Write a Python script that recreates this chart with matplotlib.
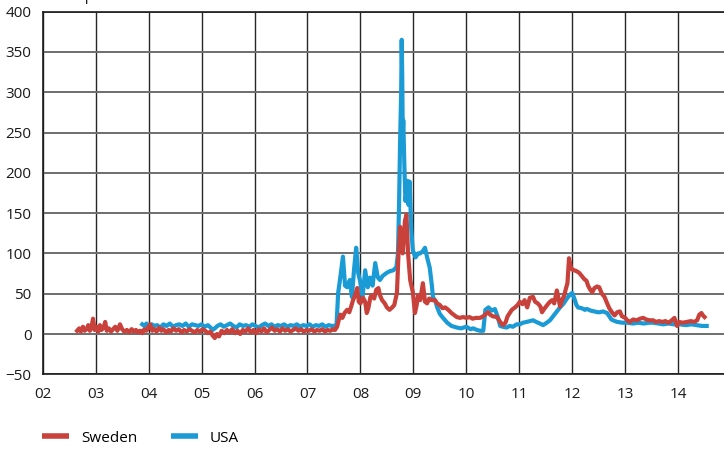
import matplotlib
matplotlib.use("Agg")
import matplotlib.pyplot as plt
from matplotlib.lines import Line2D

# Spread series, basis points, dates as decimal years
sweden_dates = [
    2002.65, 2002.69, 2002.72, 2002.76, 2002.79, 2002.83, 2002.86, 2002.89, 2002.92, 2002.95,
    2002.98, 2003.02, 2003.05, 2003.08, 2003.11, 2003.15, 2003.18, 2003.21, 2003.25, 2003.29,
    2003.33, 2003.37, 2003.41, 2003.46, 2003.50, 2003.54, 2003.59, 2003.63, 2003.68, 2003.72,
    2003.76, 2003.80, 2003.84, 2003.88, 2003.92, 2003.96, 2004.00, 2004.03, 2004.07, 2004.11,
    2004.15, 2004.20, 2004.24, 2004.28, 2004.33, 2004.38, 2004.42, 2004.47, 2004.52, 2004.57,
    2004.62, 2004.67, 2004.72, 2004.77, 2004.82, 2004.87, 2004.92, 2004.97, 2005.02, 2005.07,
    2005.12, 2005.17, 2005.21, 2005.25, 2005.29, 2005.33, 2005.38, 2005.43, 2005.48, 2005.53,
    2005.58, 2005.63, 2005.68, 2005.73, 2005.78, 2005.83, 2005.88, 2005.93, 2005.98, 2006.03,
    2006.08, 2006.13, 2006.18, 2006.23, 2006.28, 2006.33, 2006.38, 2006.43, 2006.48, 2006.53,
    2006.58, 2006.63, 2006.68, 2006.73, 2006.78, 2006.83, 2006.88, 2006.93, 2006.98, 2007.03,
    2007.08, 2007.13, 2007.18, 2007.23, 2007.28, 2007.33, 2007.38, 2007.43, 2007.48, 2007.52,
    2007.56, 2007.59, 2007.62, 2007.66, 2007.70, 2007.75, 2007.79, 2007.83, 2007.86, 2007.90,
    2007.94, 2007.97, 2008.00, 2008.05, 2008.09, 2008.12, 2008.15, 2008.19, 2008.22, 2008.26,
    2008.30, 2008.34, 2008.37, 2008.41, 2008.46, 2008.50, 2008.55, 2008.60, 2008.64, 2008.69,
    2008.72, 2008.75, 2008.78, 2008.80, 2008.82, 2008.84, 2008.87, 2008.90, 2008.92, 2008.94,
    2008.97, 2008.99, 2009.03, 2009.06, 2009.09, 2009.13, 2009.18, 2009.22, 2009.26, 2009.30,
    2009.35, 2009.41, 2009.45, 2009.50, 2009.55, 2009.60, 2009.66, 2009.72, 2009.78, 2009.82,
    2009.88, 2009.94, 2010.00, 2010.06, 2010.12, 2010.18, 2010.26, 2010.32, 2010.41, 2010.45,
    2010.50, 2010.58, 2010.64, 2010.69, 2010.74, 2010.78, 2010.83, 2010.86, 2010.92, 2010.97,
    2011.01, 2011.06, 2011.10, 2011.15, 2011.20, 2011.26, 2011.30, 2011.35, 2011.40, 2011.43,
    2011.47, 2011.54, 2011.58, 2011.62, 2011.66, 2011.71, 2011.74, 2011.77, 2011.81, 2011.85,
    2011.88, 2011.91, 2011.94, 2011.97, 2012.00, 2012.04, 2012.08, 2012.13, 2012.18, 2012.23,
    2012.27, 2012.30, 2012.34, 2012.38, 2012.42, 2012.47, 2012.51, 2012.56, 2012.61, 2012.66,
    2012.70, 2012.75, 2012.80, 2012.85, 2012.90, 2012.94, 2013.00, 2013.04, 2013.09, 2013.15,
    2013.22, 2013.28, 2013.34, 2013.40, 2013.46, 2013.53, 2013.58, 2013.64, 2013.70, 2013.76,
    2013.82, 2013.88, 2013.93, 2013.98, 2014.02, 2014.08, 2014.17, 2014.24, 2014.30, 2014.36,
    2014.40, 2014.44, 2014.47, 2014.50,
]
sweden_bp = [
    4, 7, 3, 9, 4, 6, 11, 4, 8, 19,
    5, 9, 3, 11, 5, 8, 15, 4, 7, 3,
    6, 9, 4, 12, 6, 3, 5, 2, 6, 3,
    5, 2, 4, 1, 6, 4, 9, 12, 4, 6,
    3, 8, 4, 6, 2, 5, 3, 7, 4, 6,
    2, 5, 3, 6, 4, 2, 5, 3, 6, 4,
    1, 3, -2, -5, 0, -3, 4, 1, 5, 2,
    6, 1, 4, 0, 5, 3, 7, 2, 5, 1,
    6, 3, 7, 2, 5, 8, 4, 6, 3, 7,
    4, 6, 3, 5, 7, 4, 6, 3, 5, 4,
    6, 3, 5, 4, 6, 3, 5, 4, 6, 5,
    9, 17, 24, 20, 26, 30, 27, 35, 42, 48,
    57, 40, 38, 45, 40, 26, 32, 46, 48, 44,
    55, 57, 48, 42, 38, 33, 30, 33, 36, 51,
    100, 133, 110, 100, 120, 140, 148, 100, 83, 67,
    58, 52, 26, 35, 48, 42, 63, 40, 38, 44,
    42, 42, 38, 36, 32, 33, 30, 26, 23, 21,
    20, 21, 20, 21, 19, 20, 20, 22, 27, 24,
    22, 21, 15, 11, 14, 22, 27, 30, 33, 36,
    40, 37, 42, 33, 45, 46, 40, 38, 34, 27,
    31, 37, 40, 42, 38, 54, 45, 34, 42, 48,
    56, 63, 94, 84, 80, 79, 78, 76, 72, 68,
    66, 60, 55, 52, 57, 59, 58, 50, 46, 38,
    32, 27, 23, 27, 28, 22, 20, 17, 15, 18,
    17, 19, 20, 18, 17, 17, 15, 16, 15, 16,
    14, 17, 20, 10, 15, 14, 15, 16, 15, 17,
    24, 26, 23, 21,
]

usa_dates = [
    2003.88, 2003.92, 2003.96, 2004.01, 2004.06, 2004.11, 2004.16, 2004.22, 2004.28, 2004.34,
    2004.40, 2004.46, 2004.52, 2004.58, 2004.64, 2004.70, 2004.76, 2004.82, 2004.88, 2004.94,
    2005.00, 2005.06, 2005.12, 2005.17, 2005.21, 2005.25, 2005.30, 2005.36, 2005.42, 2005.48,
    2005.54, 2005.60, 2005.66, 2005.72, 2005.78, 2005.84, 2005.90, 2005.96, 2006.02, 2006.08,
    2006.14, 2006.20, 2006.26, 2006.32, 2006.38, 2006.44, 2006.50, 2006.56, 2006.62, 2006.68,
    2006.74, 2006.80, 2006.86, 2006.92, 2006.98, 2007.04, 2007.10, 2007.16, 2007.22, 2007.28,
    2007.34, 2007.40, 2007.46, 2007.51, 2007.55, 2007.58, 2007.62, 2007.67, 2007.71, 2007.75,
    2007.80, 2007.84, 2007.88, 2007.92, 2007.96, 2007.99, 2008.04, 2008.09, 2008.14, 2008.18,
    2008.23, 2008.28, 2008.33, 2008.37, 2008.42, 2008.50, 2008.56, 2008.62, 2008.68, 2008.71,
    2008.73, 2008.75, 2008.77, 2008.78, 2008.79, 2008.80, 2008.81, 2008.83, 2008.85, 2008.87,
    2008.89, 2008.91, 2008.93, 2008.96, 2008.99, 2009.04, 2009.09, 2009.13, 2009.18, 2009.22,
    2009.26, 2009.31, 2009.35, 2009.37, 2009.42, 2009.45, 2009.50, 2009.56, 2009.64, 2009.72,
    2009.82, 2009.90, 2010.00, 2010.08, 2010.13, 2010.20, 2010.26, 2010.32, 2010.36, 2010.42,
    2010.48, 2010.54, 2010.60, 2010.64, 2010.69, 2010.76, 2010.82, 2010.88, 2010.95, 2011.01,
    2011.07, 2011.14, 2011.20, 2011.26, 2011.32, 2011.39, 2011.45, 2011.52, 2011.58, 2011.64,
    2011.70, 2011.77, 2011.84, 2011.90, 2011.96, 2012.00, 2012.04, 2012.08, 2012.11, 2012.18,
    2012.24, 2012.28, 2012.35, 2012.42, 2012.48, 2012.52, 2012.58, 2012.66, 2012.70, 2012.74,
    2012.77, 2012.85, 2012.95, 2013.04, 2013.15, 2013.25, 2013.35, 2013.45, 2013.53, 2013.62,
    2013.72, 2013.82, 2013.92, 2014.03, 2014.15, 2014.25, 2014.35, 2014.45, 2014.54,
]
usa_bp = [
    12, 10, 13, 9, 12, 10, 11, 8, 12, 10,
    13, 9, 11, 12, 10, 13, 9, 12, 11, 10,
    12, 9, 11, 8, 5, 7, 10, 12, 9, 11,
    13, 10, 8, 12, 10, 11, 9, 12, 10, 8,
    11, 13, 10, 12, 9, 11, 10, 12, 9, 11,
    10, 12, 9, 11, 10, 12, 9, 11, 10, 12,
    9, 11, 10, 10, 12, 51, 70, 96, 60, 58,
    67, 46, 80, 107, 75, 67, 46, 79, 58, 70,
    60, 88, 70, 67, 72, 76, 78, 79, 83, 100,
    160, 240, 300, 365, 320, 250, 265, 210, 165, 175,
    190, 160, 189, 130, 104, 95, 100, 100, 103, 107,
    95, 82, 60, 46, 40, 33, 25, 20, 14, 10,
    8, 7, 9, 6, 7, 5, 4, 4, 30, 33,
    29, 31, 20, 10, 9, 8, 10, 9, 12, 12,
    14, 15, 16, 17, 15, 13, 11, 14, 17, 22,
    27, 33, 38, 44, 49, 51, 44, 36, 33, 32,
    30, 31, 29, 28, 27, 27, 28, 26, 22, 18,
    17, 15, 14, 14, 13, 14, 13, 14, 14, 13,
    12, 13, 12, 12, 11, 12, 11, 10, 10,
]

year_ticks = list(range(2002, 2015))
year_labels = [f"{y % 100:02d}" for y in year_ticks]
value_ticks = list(range(-50, 401, 50))

red = "#c8413b"
blue = "#1b9bd6"

plt.rcParams["font.family"] = ["Open Sans", "DejaVu Sans"]

fig = plt.figure(figsize=(7.24, 4.51), dpi=100)
ax = fig.add_axes([42.7 / 724, (451 - 374.3) / 451, 1 - 42.7 / 724, (374.3 - 11.6) / 451])

ax.plot(usa_dates, usa_bp, color=blue, lw=3.0, solid_joinstyle="round", zorder=3)
ax.plot(sweden_dates, sweden_bp, color=red, lw=3.0, solid_joinstyle="round", zorder=4)

ax.set_xlim(2002, 2002 + (724 - 42.7) / 52.95)
ax.set_ylim(-50, 400)
ax.set_xticks(year_ticks)
ax.set_xticklabels(year_labels)
ax.set_yticks(value_ticks)

ax.tick_params(axis="both", length=0, labelsize=11, colors="#1a1a1a")
ax.tick_params(axis="x", pad=9)
ax.tick_params(axis="y", pad=8)

ax.grid(axis="y", color="#6e6e6e", lw=1.4, zorder=1)
ax.grid(axis="x", color="#262626", lw=1.0, zorder=1)
ax.set_axisbelow(True)

for side in ("left", "top", "bottom"):
    ax.spines[side].set_color("#1a1a1a")
    ax.spines[side].set_linewidth(1.2)
ax.spines["right"].set_visible(False)

# Unit caption above the plot area; its baseline sits on the top edge
fig.text(44 / 724, 1.0, "Basis points", fontsize=11, ha="left", va="baseline", color="#1a1a1a")

handles = [Line2D([], [], color=red, lw=4, solid_capstyle="butt"),
           Line2D([], [], color=blue, lw=4, solid_capstyle="butt")]
fig.legend(handles, ["Sweden", "USA"], loc="center left",
           bbox_to_anchor=(42 / 724, 1 - 438 / 451), ncol=2, frameon=False,
           fontsize=11, handlelength=1.75, handletextpad=0.8, columnspacing=2.2,
           borderaxespad=0, borderpad=0)

fig.savefig("out.png", dpi=100)
